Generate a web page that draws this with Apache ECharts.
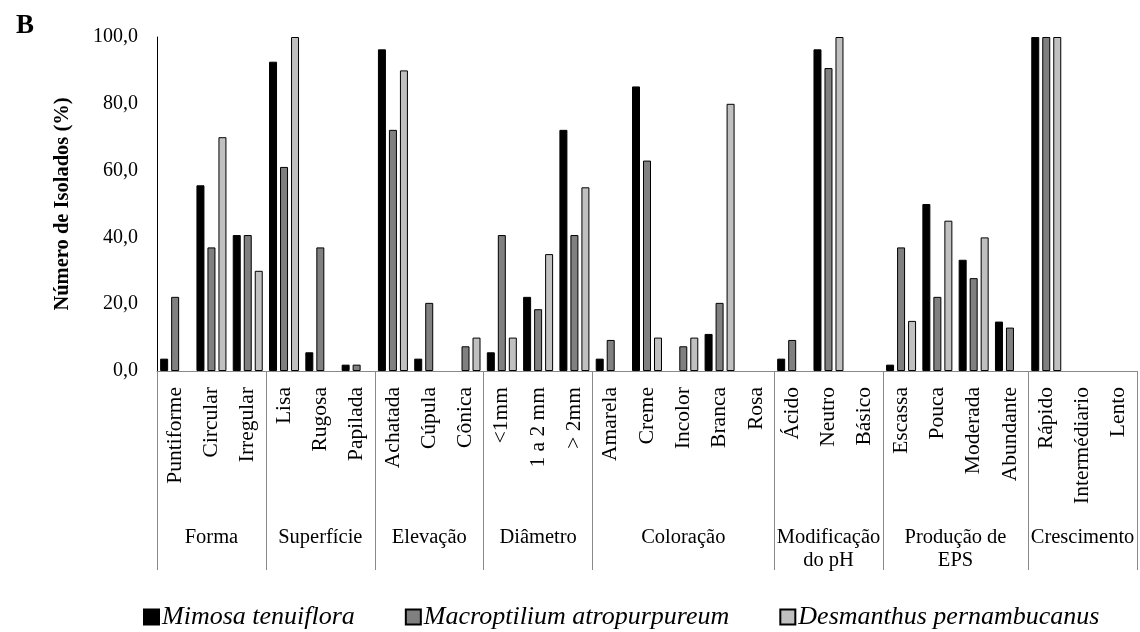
<!DOCTYPE html>
<html>
<head>
<meta charset="utf-8">
<script src="https://cdn.jsdelivr.net/npm/echarts@6/dist/echarts.min.js"></script>
<style>
html,body{margin:0;padding:0;background:#fff;}
#chart{width:1140px;height:632px;}
</style>
</head>
<body>
<div id="chart"></div>
<script>
// ---- data ----
var categories = ['Puntiforme','Circular','Irregular','Lisa','Rugosa','Papilada','Achatada','Cúpula','Cônica','<1mm','1 a 2 mm','> 2mm','Amarela','Creme','Incolor','Branca','Rosa','Ácido','Neutro','Básico','Escassa','Pouca','Moderada','Abundante','Rápido','Intermédiario','Lento'];
var groupNames = ['Forma','Superfície','Elevação','Diâmetro','Coloração','Modificação\ndo pH','Produção de\nEPS','Crescimento'];
var groupSizes = [3,3,3,3,5,3,4,3];
var seriesNames = ['Mimosa tenuiflora','Macroptilium atropurpureum','Desmanthus pernambucanus'];
var mimosa = [3.7,55.6,40.7, 92.6,5.6,1.9, 96.3,3.7,0, 5.6,22.2,72.2, 3.7,85.2,0,11.1,0, 3.7,96.3,0, 1.9,50.0,33.3,14.8, 100,0,0];
var macroptilium = [22.2,37.0,40.7, 61.1,37.0,1.9, 72.2,20.4,7.4, 40.7,18.5,40.7, 9.3,63.0,7.4,20.4,0, 9.3,90.7,0, 37.0,22.2,27.8,13.0, 100,0,0];
var desmanthus = [0,70,30, 100,0,0, 90,0,10, 10,35,55, 0,10,10,80,0, 0,100,0, 15,45,40,0, 100,0,0];
var yTicks = [0,20,40,60,80,100];

// ---- build ----
var FONT = '"Liberation Serif","Times New Roman",serif';
var nCat = categories.length;
var groupAxisData = [];
for (var i = 0; i <= nCat * 2; i++) groupAxisData.push('');
var boundaries = {0: true};
var acc = 0;
groupSizes.forEach(function (s, gi) {
  var a = acc, b = acc + s;
  groupAxisData[a + b] = groupNames[gi];
  boundaries[2 * b] = true;
  acc = b;
});
function clean(arr){ return arr.map(function(v){ return v === 0 ? null : v; }); }
var colors = ['#000000','#808080','#c0c0c0'];
var dataSets = [mimosa, macroptilium, desmanthus];

var chart = echarts.init(document.getElementById('chart'), null, {renderer:'canvas'});
chart.setOption({
  animation: false,
  backgroundColor: '#ffffff',
  textStyle: {fontFamily: FONT},
  title: {
    text: 'B', left: 11, top: 8,
    textStyle: {fontFamily: FONT, fontWeight: 'bold', fontSize: 27, color: '#000'}
  },
  grid: {left: 157, right: 2, top: 37, bottom: 261, containLabel: false},
  legend: {
    data: seriesNames,
    left: 143, top: 604, padding: 0,
    itemWidth: 15, itemHeight: 15, itemGap: 50,
    icon: 'rect',
    textStyle: {fontFamily: FONT, fontStyle: 'italic', fontSize: 26, color: '#000', padding: [0,0,0,-2]}
  },
  xAxis: [{
    type: 'category',
    data: categories,
    axisLine: {show: true, lineStyle: {color: '#898989', width: 1}},
    axisTick: {show: false},
    axisLabel: {interval: 0, rotate: 90, margin: 16, fontFamily: FONT, fontSize: 21.5, color: '#000'}
  }, {
    type: 'category',
    data: groupAxisData,
    boundaryGap: false,
    position: 'bottom',
    axisLine: {show: false},
    axisTick: {show: true, length: 199, interval: function (idx) { return !!boundaries[idx]; },
      lineStyle: {color: '#898989', width: 1}},
    axisLabel: {interval: 0, margin: 155, fontFamily: FONT, fontSize: 20.5, color: '#000', lineHeight: 23, align: 'center'}
  }],
  yAxis: {
    type: 'value', min: yTicks[0], max: yTicks[yTicks.length - 1], interval: yTicks[1] - yTicks[0],
    name: 'Número de Isolados (%)', nameLocation: 'middle', nameRotate: 90, nameGap: 84,
    nameTextStyle: {fontFamily: FONT, fontWeight: 'bold', fontSize: 20.5, color: '#000'},
    axisLine: {show: true, lineStyle: {color: '#000', width: 1}},
    axisTick: {show: false},
    splitLine: {show: false},
    axisLabel: {margin: 19, fontFamily: FONT, fontSize: 20, color: '#000',
      formatter: function (v) { return v.toFixed(1).replace('.', ','); }}
  },
  series: dataSets.map(function (d, i) {
    return {
      name: seriesNames[i], type: 'bar', xAxisIndex: 0,
      data: clean(d), barWidth: 8, barGap: '37.5%',
      itemStyle: {color: colors[i], borderColor: '#000', borderWidth: 1}
    };
  })
});
</script>
</body>
</html>
